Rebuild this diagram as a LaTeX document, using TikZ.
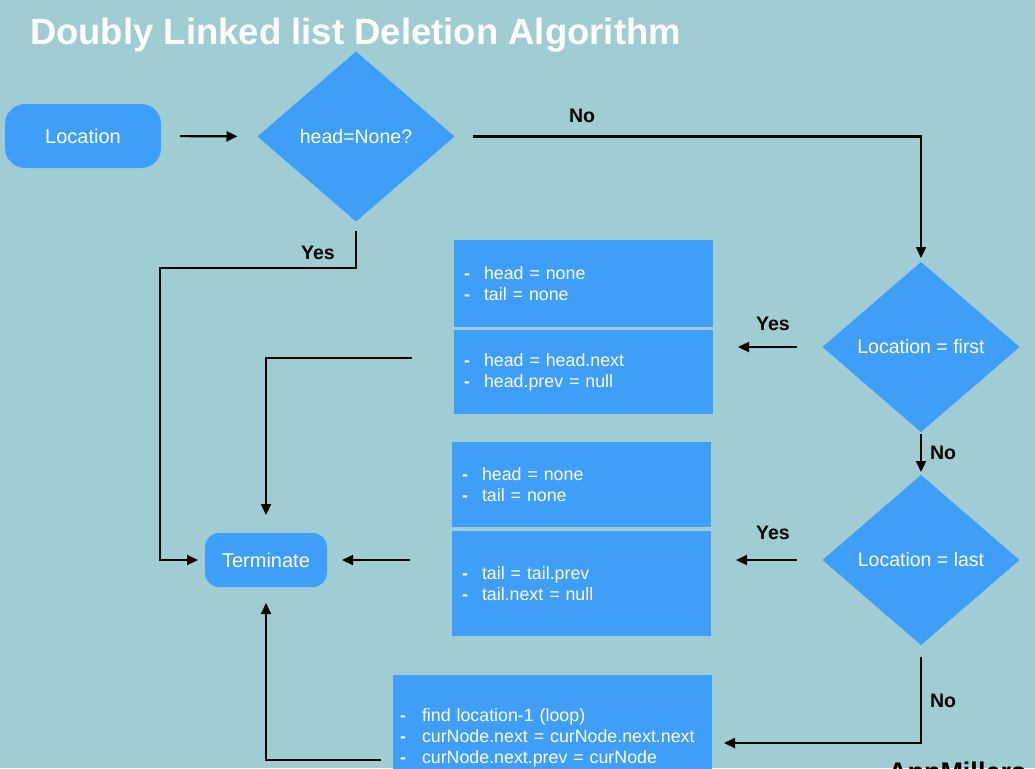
\documentclass[tikz,border=0pt]{standalone}
\usepackage{fontspec}
\setmainfont{Liberation Sans}
\usetikzlibrary{shapes.geometric,arrows.meta}
\definecolor{bg}{RGB}{160,204,211}
\definecolor{flowblue}{RGB}{62,158,248}
\newcommand\dashitem{\makebox[20pt][l]{\textbf{-}}}
\newcommand\dashitemwide{\makebox[22pt][l]{\textbf{-}}}

\begin{document}
\begin{tikzpicture}[x=1pt,y=-1pt,
  every node/.style={inner sep=0pt, outer sep=0pt},
  terminal/.style={fill=flowblue, rounded corners=#1, text=white, font=\fontsize{20}{24}\selectfont},
  decision/.style={diamond, fill=flowblue, text=white, minimum width=197pt, minimum height=170pt, font=\fontsize{19.5}{23}\selectfont},
  stepbox/.style={fill=flowblue, text=white, anchor=north west, align=left, inner xsep=10pt,
    font=\fontsize{17.8}{21}\selectfont},
  conn/.style={line width=2.2pt, draw=black},
  arr/.style={conn, -{Triangle[length=11pt,width=10pt]}},
  lbl/.style={font=\bfseries\fontsize{19.5}{23}\selectfont, text=black}
]
% canvas
\useasboundingbox (0,0) rectangle (1035,768);
\clip (0,0) rectangle (1035,768);
\fill[bg] (0,0) rectangle (1035,768);

% title
\node[text=white, font=\bfseries\fontsize{36.5}{40}\selectfont, anchor=base west] (title) at (30,45) {Doubly Linked list Deletion Algorithm};

% start, decisions, end
\node[terminal=20pt, minimum width=156pt, minimum height=64pt] (loc) at (83,136) {Location};
\node[decision] (d1) at (356,136.5) {head=None?};
\node[decision] (d2) at (921,347) {Location = first};
\node[decision] (d3) at (921,560) {Location = last};
\node[terminal=14pt, minimum width=122pt, minimum height=54pt] (term) at (266,560) {Terminate};

% action boxes
\node[stepbox, text width=239pt, minimum height=87pt] (A1) at (454,240) {\dashitem head = none\\ \dashitem tail = none};
\node[stepbox, text width=239pt, minimum height=84pt] (A2) at (454,330) {\dashitem head = head.next\\ \dashitem head.prev = null};
\node[stepbox, text width=239pt, minimum height=85pt] (B1) at (452,442) {\dashitem head = none\\ \dashitem tail = none};
\node[stepbox, text width=239pt, minimum height=105pt] (B2) at (452,531) {\dashitem tail = tail.prev\\ \dashitem tail.next = null};
\node[stepbox, inner xsep=7pt, text width=305pt, minimum height=126pt] (C) at (393,675)
  {\dashitemwide find location-1 (loop)\\ \dashitemwide curNode.next = curNode.next.next\\ \dashitemwide curNode.next.prev = curNode};

% connectors
\coordinate (yesTurn) at (160,268);
\coordinate (noTurn) at (921,743);
\draw[arr, shorten <=19pt, shorten >=20pt] (loc.east) -- (d1.west);
\draw[arr, shorten <=18pt, shorten >=4pt] (d1.east) -| (d2.north);
\draw[arr, shorten <=9pt, shorten >=7pt] (d1.south) |- (yesTurn) |- (term.west);
\draw[arr, shorten <=26pt, shorten >=25pt] (d2.west) -- (d2.west -| A2.east);
\draw[arr, shorten <=2pt, shorten >=3pt] (d2.south) -- (d3.north);
\draw[arr, shorten <=26pt, shorten >=25pt] (d3.west) -- (d3.west -| B2.east);
\draw[arr, shorten <=12pt, shorten >=12pt] (d3.south) -- (noTurn) -- (noTurn -| C.east);
\draw[arr, shorten <=42pt, shorten >=18pt] ([yshift=14pt]A2.west) -| (term.north);
\draw[arr, shorten <=42pt, shorten >=15pt] (term.east -| B2.west) -- (term.east);
\draw[arr, shorten <=12pt, shorten >=16pt] ([yshift=-22pt]C.west) -| (term.south);

% branch labels
\node[lbl] (noA) at (582,116) {No};
\node[lbl] (yesA) at (318,253) {Yes};
\node[lbl] (yesB) at (773,324) {Yes};
\node[lbl] (noB) at (943,453) {No};
\node[lbl] (yesC) at (773,533) {Yes};
\node[lbl] (noC) at (943,701) {No};

% credit
\node[font=\bfseries\fontsize{27}{30}\selectfont, anchor=base west] (brand) at (888,781) {AppMillers};
\end{tikzpicture}
\end{document}
